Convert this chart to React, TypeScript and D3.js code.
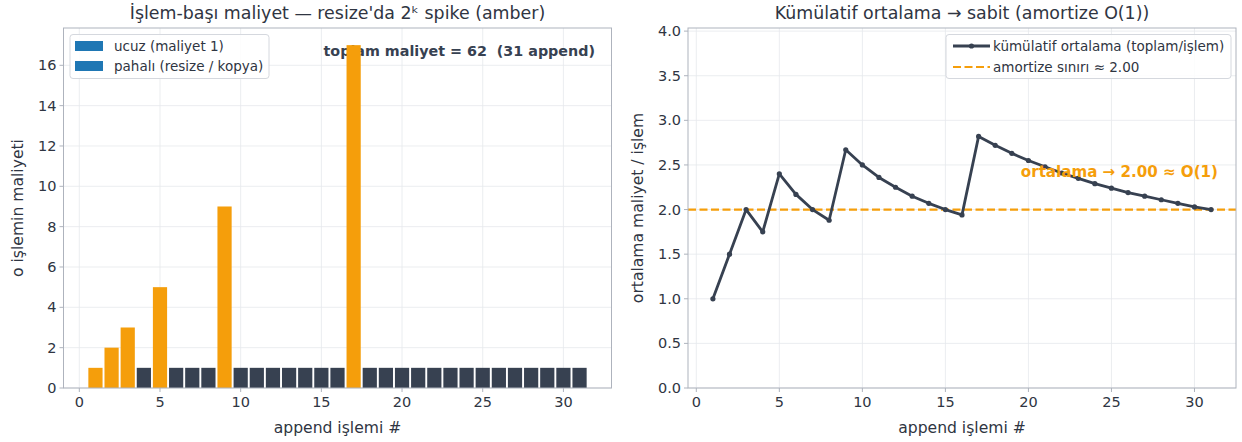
import * as d3 from 'd3'

// data
const appendIdx = [1, 2, 3, 4, 5, 6, 7, 8, 9, 10, 11, 12, 13, 14, 15, 16, 17, 18, 19, 20, 21, 22, 23, 24, 25, 26, 27, 28, 29, 30, 31]
const opCost = [1, 2, 3, 1, 5, 1, 1, 1, 9, 1, 1, 1, 1, 1, 1, 1, 17, 1, 1, 1, 1, 1, 1, 1, 1, 1, 1, 1, 1, 1, 1]
const resizeOps = [1, 2, 3, 5, 9, 17]
const cumAvg = [1.0, 1.5, 2.0, 1.75, 2.4, 2.17, 2.0, 1.88, 2.67, 2.5, 2.36, 2.25, 2.15, 2.07, 2.0, 1.94, 2.82, 2.72, 2.63, 2.55, 2.48, 2.41, 2.35, 2.29, 2.24, 2.19, 2.15, 2.11, 2.07, 2.03, 2.0]
const amortBound = 2.0
const xTicks = [0, 5, 10, 15, 20, 25, 30]
const costTicks = [0, 2, 4, 6, 8, 10, 12, 14, 16]
const avgTicks = [0, 0.5, 1, 1.5, 2, 2.5, 3, 3.5, 4]
const legendLeft = ['ucuz (maliyet 1)', 'pahalı (resize / kopya)']
const legendRight = ['kümülatif ortalama (toplam/işlem)', 'amortize sınırı ≈ 2.00']

const FONT = 'DejaVu Sans, sans-serif'
const TXT = '#2f3542'
const DARK = '#374151'
const AMBER = '#f59e0b'
const GRID = '#e6e8ec'
const SPINE = '#aeb3bd'

const top = 28, bottom = 388

const Grid = ({ x, y, xt, yt }: any) => {
  const [x0, x1] = x.range()
  return (
    <g>
      {xt.map((t: number) => (
        <line key={'gx' + t} x1={x(t)} x2={x(t)} y1={top} y2={bottom} stroke={GRID} strokeWidth={0.8} />
      ))}
      {yt.map((t: number) => (
        <line key={'gy' + t} x1={x0} x2={x1} y1={y(t)} y2={y(t)} stroke={GRID} strokeWidth={0.8} />
      ))}
    </g>
  )
}

const Frame = ({ x, y, xt, yt, fmt }: any) => {
  const [x0, x1] = x.range()
  return (
    <g fontFamily={FONT} fill={TXT}>
      <rect x={x0} y={top} width={x1 - x0} height={bottom - top} fill="none" stroke={SPINE} strokeWidth={1} />
      {xt.map((t: number) => (
        <g key={'tx' + t}>
          <line x1={x(t)} x2={x(t)} y1={bottom} y2={bottom + 4} stroke={SPINE} />
          <text x={x(t)} y={bottom + 19} fontSize={14.5} textAnchor="middle">{t}</text>
        </g>
      ))}
      {yt.map((t: number) => (
        <g key={'ty' + t}>
          <line x1={x0 - 4} x2={x0} y1={y(t)} y2={y(t)} stroke={SPINE} />
          <text x={x0 - 7} y={y(t) + 5} fontSize={14.5} textAnchor="end">{fmt(t)}</text>
        </g>
      ))}
    </g>
  )
}

const App = () => {
  // left panel
  const xL = d3.scaleLinear().domain([-0.98, 32.98]).range([63.5, 611.5])
  const yL = d3.scaleLinear().domain([0, 17.85]).range([bottom, top])
  const bw = xL(0.88) - xL(0)

  // right panel
  const xR = d3.scaleLinear().domain([-0.5, 32.5]).range([688, 1236])
  const yR = d3.scaleLinear().domain([0, 4.035]).range([bottom, top])
  const line = d3.line<number>().x((_, i) => xR(appendIdx[i])).y(d => yR(d))

  const cxL = (63.5 + 611.5) / 2
  const cxR = (688 + 1236) / 2

  return (
    <svg width={1242} height={442} style={{ position: 'absolute', left: 0, top: 0, background: '#fff' }}>
      <rect width={1242} height={442} fill="#fff" />

      {/* ---------- left: per-op cost ---------- */}
      <Grid x={xL} y={yL} xt={xTicks} yt={costTicks} />
      <text x={595} y={56} fontFamily={FONT} fontSize={14.3} fontWeight="bold" fill={DARK} textAnchor="end" style={{ whiteSpace: 'pre' }}>
        {'toplam maliyet = 62  (31 append)'}
      </text>
      {appendIdx.map((a, i) => (
        <rect key={a} x={xL(a) - bw / 2} y={yL(opCost[i])} width={bw} height={yL(0) - yL(opCost[i])}
          fill={resizeOps.includes(a) ? AMBER : DARK} />
      ))}
      <Frame x={xL} y={yL} xt={xTicks} yt={costTicks} fmt={(t: number) => String(t)} />
      <g fontFamily={FONT} fontSize={13.5} fill={TXT}>
        <rect x={70} y={34.5} width={199} height={44} rx={3} fill="#fff" fillOpacity={0.85} stroke="#d5d8de" />
        {legendLeft.map((l, i) => (
          <g key={l}>
            <rect x={75} y={41 + i * 20} width={28} height={10} fill="#1f77b4" />
            <text x={114} y={51 + i * 20}>{l}</text>
          </g>
        ))}
      </g>
      <text x={cxL} y={19} fontFamily={FONT} fontSize={17.4} fill={TXT} textAnchor="middle">
        İşlem-başı maliyet — resize'da 2ᵏ spike (amber)
      </text>
      <text x={cxL} y={433} fontFamily={FONT} fontSize={15.6} fill={TXT} textAnchor="middle">append işlemi #</text>
      <text transform={`translate(23,${(top + bottom) / 2}) rotate(-90)`} fontFamily={FONT} fontSize={15.6} fill={TXT} textAnchor="middle">
        o işlemin maliyeti
      </text>

      {/* ---------- right: cumulative average ---------- */}
      <Grid x={xR} y={yR} xt={xTicks} yt={avgTicks} />
      <line x1={688} x2={1236} y1={yR(amortBound)} y2={yR(amortBound)} stroke={AMBER} strokeWidth={2.2} strokeDasharray="8,3.5" />
      <path d={line(cumAvg) || ''} fill="none" stroke={DARK} strokeWidth={2.8} strokeLinejoin="round" />
      {cumAvg.map((v, i) => (
        <circle key={i} cx={xR(appendIdx[i])} cy={yR(v)} r={2.6} fill={DARK} />
      ))}
      <text x={1218} y={177} fontFamily={FONT} fontSize={15.1} fontWeight="bold" fill={AMBER} textAnchor="end">
        ortalama → 2.00 ≈ O(1)
      </text>
      <Frame x={xR} y={yR} xt={xTicks} yt={avgTicks} fmt={d3.format('.1f')} />
      <g fontFamily={FONT} fontSize={13.5} fill={TXT}>
        <rect x={946} y={34.5} width={285} height={44} rx={3} fill="#fff" fillOpacity={0.85} stroke="#d5d8de" />
        <line x1={953} x2={990} y1={46} y2={46} stroke={DARK} strokeWidth={2.8} />
        <circle cx={971.5} cy={46} r={2.6} fill={DARK} />
        <text x={993} y={51}>{legendRight[0]}</text>
        <line x1={953} x2={990} y1={67} y2={67} stroke={AMBER} strokeWidth={2.2} strokeDasharray="8,3.5" />
        <text x={993} y={72}>{legendRight[1]}</text>
      </g>
      <text x={cxR} y={19} fontFamily={FONT} fontSize={17.4} fill={TXT} textAnchor="middle">
        Kümülatif ortalama → sabit (amortize O(1))
      </text>
      <text x={cxR} y={433} fontFamily={FONT} fontSize={15.6} fill={TXT} textAnchor="middle">append işlemi #</text>
      <text transform={`translate(643,${(top + bottom) / 2}) rotate(-90)`} fontFamily={FONT} fontSize={15.6} fill={TXT} textAnchor="middle">
        ortalama maliyet / işlem
      </text>
    </svg>
  )
}

export default App
